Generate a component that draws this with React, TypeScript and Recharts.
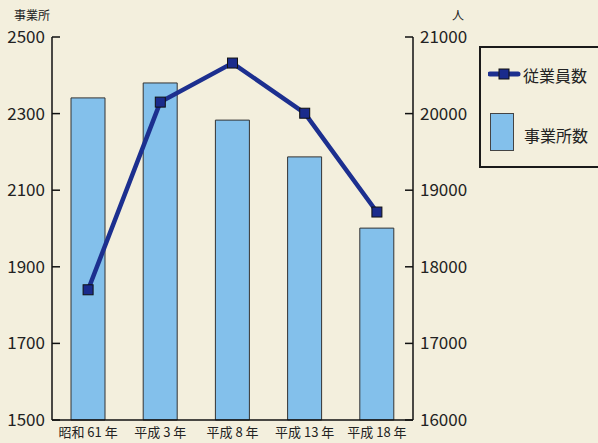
import React from "react";
import { Bar, ComposedChart, Line, XAxis, YAxis } from "recharts";

const years = ["昭和 61 年", "平成 3 年", "平成 8 年", "平成 13 年", "平成 18 年"];
const offices = [2341, 2380, 2283, 2187, 2001];
const workers = [17700, 20150, 20660, 20005, 18715];
const leftTicks = [1500, 1700, 1900, 2100, 2300, 2500];
const rightTicks = [16000, 17000, 18000, 19000, 20000, 21000];

const data = years.map((year, i) => ({ year, offices: offices[i], workers: workers[i] }));

const BG = "#f3efdd";
const FONT = "'Noto Sans CJK JP', 'Noto Sans', sans-serif";

function LeftTick(props: any) {
  const { x, y, payload } = props;
  return (
    <g>
      <line x1={x + 7} x2={x + 15} y1={y} y2={y} stroke="#111" strokeWidth={1.5} />
      <text x={x} y={y} dy={6} textAnchor="end" fontSize={17} fill="#222" fontFamily={FONT}>
        {payload.value}
      </text>
    </g>
  );
}

function RightTick(props: any) {
  const { x, y, payload } = props;
  return (
    <g>
      <line x1={x - 7} x2={x - 15} y1={y} y2={y} stroke="#111" strokeWidth={1.5} />
      <text x={x} y={y} dy={6} textAnchor="start" fontSize={17} fill="#222" fontFamily={FONT}>
        {payload.value}
      </text>
    </g>
  );
}

function SquareDot(props: any) {
  const { cx, cy } = props;
  return <rect x={cx - 5} y={cy - 5} width={10} height={10} fill="#1a2b8c" stroke="#111" strokeWidth={1} />;
}

export default function App() {
  return (
    <div style={{ position: "fixed", left: 0, top: 0, width: 598, height: 443, background: BG, fontFamily: FONT, overflow: "hidden" }}>
      <div style={{ position: "absolute", left: 14, top: 6, fontSize: 12, color: "#222" }}>事業所</div>
      <div style={{ position: "absolute", left: 452, top: 6, fontSize: 12, color: "#222" }}>人</div>
      <ComposedChart width={598} height={443} data={data} margin={{ top: 37, right: 125, bottom: 3, left: 0 }}>
        <XAxis
          dataKey="year"
          height={20}
          axisLine={{ stroke: "#111", strokeWidth: 1.5 }}
          tickLine={false}
          tick={{ fontSize: 13, fill: "#222", fontFamily: FONT }}
          tickMargin={2}
          interval={0}
        />
        <YAxis
          yAxisId="left"
          width={52}
          domain={[1500, 2500]}
          ticks={leftTicks}
          tickSize={0}
          tickMargin={7}
          tickLine={false}
          axisLine={{ stroke: "#111", strokeWidth: 1.5 }}
          tick={<LeftTick />}
        />
        <YAxis
          yAxisId="right"
          orientation="right"
          width={60}
          domain={[16000, 21000]}
          ticks={rightTicks}
          tickSize={0}
          tickMargin={7}
          tickLine={false}
          axisLine={{ stroke: "#111", strokeWidth: 1.5 }}
          tick={<RightTick />}
        />
        <Bar yAxisId="left" dataKey="offices" barSize={34} fill="#83c0eb" stroke="#333" strokeWidth={1} isAnimationActive={false} />
        <Line
          yAxisId="right"
          dataKey="workers"
          stroke="#1c2f8f"
          strokeWidth={4.5}
          dot={<SquareDot />}
          activeDot={false}
          isAnimationActive={false}
        />
      </ComposedChart>
      <div style={{ position: "absolute", left: 479, top: 46, width: 140, height: 122, border: "2px solid #1a1a1a", boxSizing: "border-box" }}>
        <svg width={36} height={14} style={{ position: "absolute", left: 7, top: 19 }}>
          <line x1={2} x2={30} y1={7} y2={7} stroke="#1c2f8f" strokeWidth={5} strokeLinecap="round" />
          <rect x={11} y={2} width={10} height={10} fill="#1a2b8c" stroke="#111" strokeWidth={1} />
        </svg>
        <div style={{ position: "absolute", left: 42, top: 15, fontSize: 16, color: "#222" }}>従業員数</div>
        <div style={{ position: "absolute", left: 9, top: 65, width: 24, height: 38, background: "#83c0eb", border: "1px solid #444", boxSizing: "border-box" }} />
        <div style={{ position: "absolute", left: 43, top: 75, fontSize: 16, color: "#222" }}>事業所数</div>
      </div>
    </div>
  );
}
